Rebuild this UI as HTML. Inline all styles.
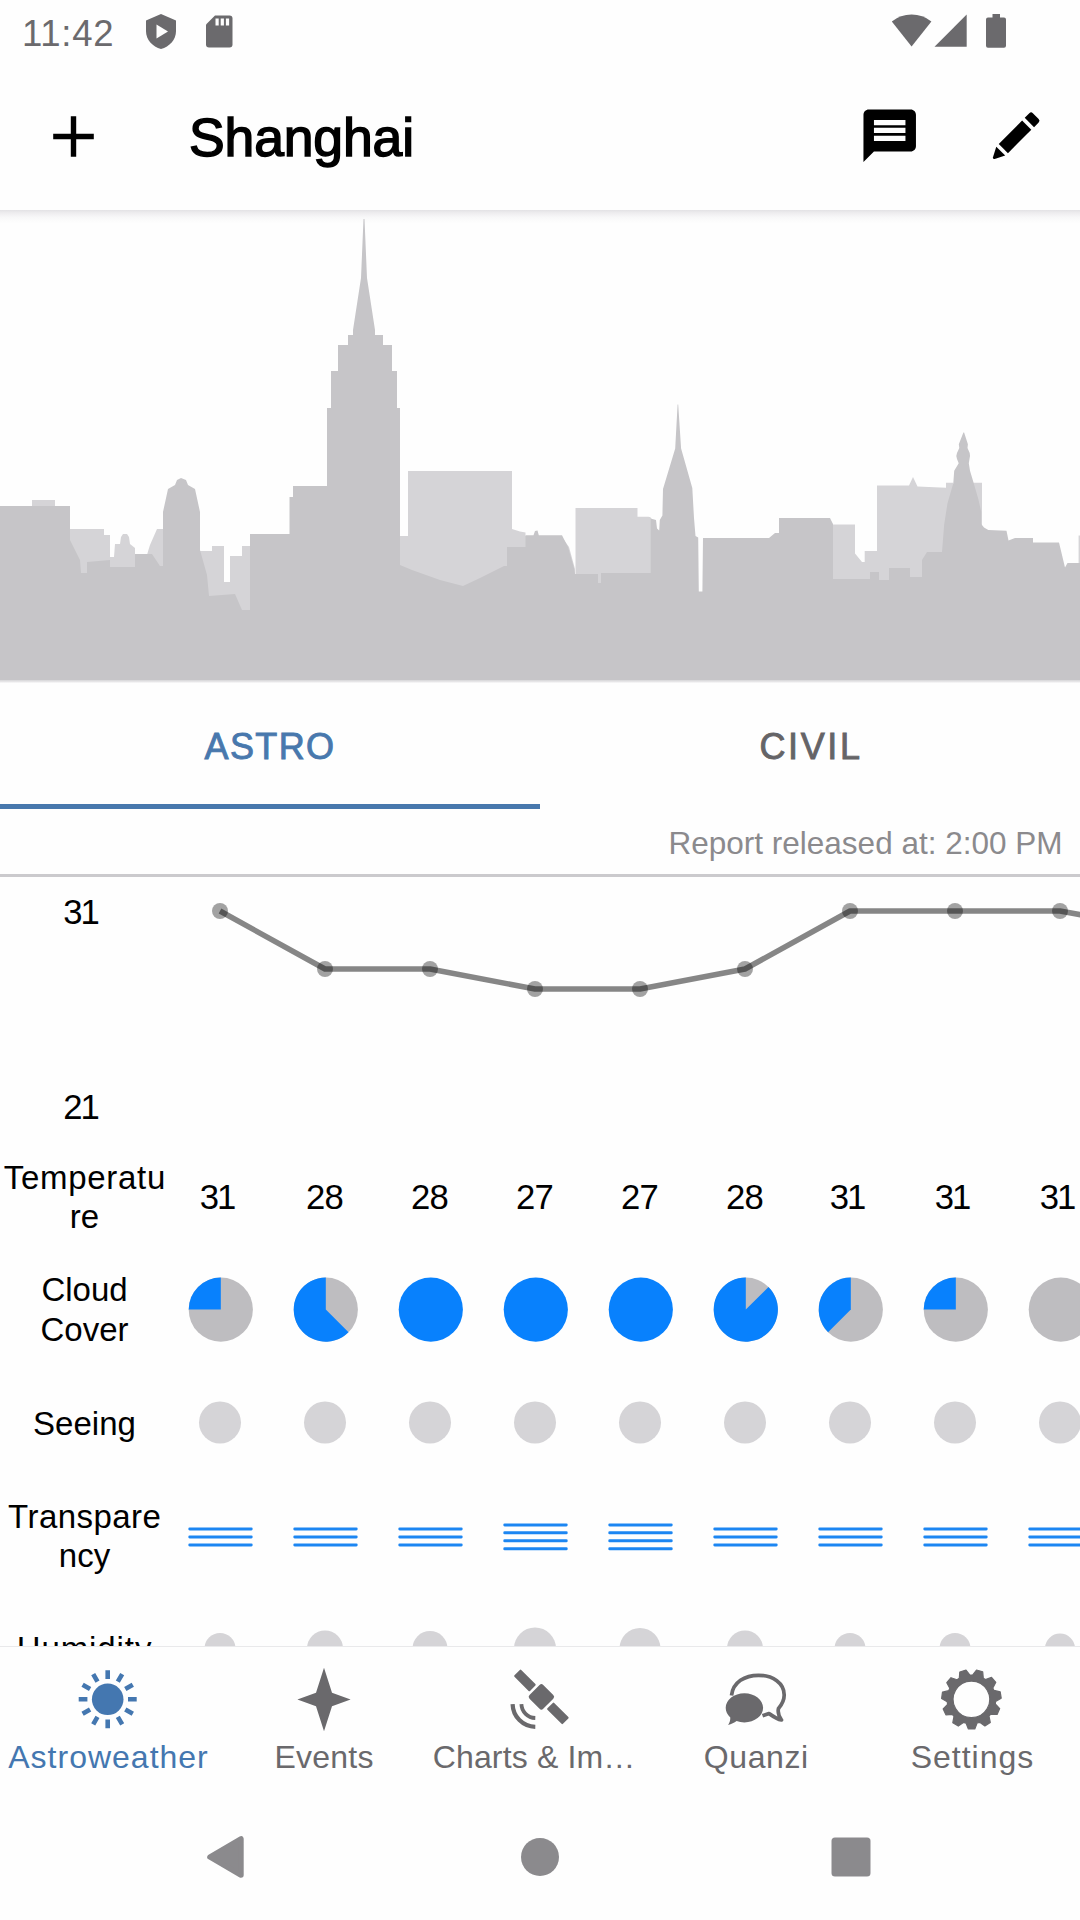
<!DOCTYPE html>
<html lang="en">
<head>
<meta charset="utf-8">
<title>Astroweather - Shanghai</title>
<style>
*{margin:0;padding:0;box-sizing:border-box}
html,body{width:1080px;height:1920px;overflow:hidden;background:#fefefe}
body{position:relative;font-family:"Liberation Sans",sans-serif;color:#000}
.abs{position:absolute}
svg{position:absolute;overflow:visible}
.t{position:absolute;white-space:nowrap;line-height:1}
/* status bar */
#time{left:22px;top:16px;font-size:36.5px;color:#6b6a6d;letter-spacing:0.7px}
/* app bar */
#title{left:189px;top:111px;font-size:53.5px;color:#000;font-weight:normal;-webkit-text-stroke:1.5px #000;letter-spacing:-0.15px}
#appshadow{left:0;top:209.5px;width:1080px;height:14px;background:linear-gradient(#e3e2e5 0,#eeedef 3px,#f7f7f8 7px,#fcfcfc 11px,#fefefe 14px)}
/* tabs */
.tab{position:absolute;top:683.8px;width:540px;height:126px;text-align:center;font-size:36px;line-height:126px;-webkit-text-stroke:.9px currentColor}
#tab1{left:0;color:#4878ad;letter-spacing:1.4px;padding-left:0px}
#tab2{left:540px;color:#656467;letter-spacing:2.6px;padding-left:2px}
#ind{left:0;top:804px;width:540px;height:5px;background:#4878ad}
#report{right:17.5px;top:828px;font-size:31.5px;color:#8b8a8d}
#sep{left:0;top:874px;width:1080px;height:3px;background:#cbcacd}

.yl{left:38px;width:85px;text-align:center;font-size:34.7px;letter-spacing:-2px}
.rl{left:0;width:169px;text-align:center;font-size:33px}
.tv{width:105px;text-align:center;font-size:34.7px;letter-spacing:-.8px;top:1179.6px}

#bnav{left:0;top:1646px;width:1080px;height:274px;background:#fefefe;border-top:1.5px solid #e9e9eb}
.bl{width:216px;text-align:center;top:1740.8px;font-size:32px}
</style>
</head>
<body>

<!-- ===== STATUS BAR ===== -->
<div class="t" id="time">11:42</div>
<svg id="sticons" width="1080" height="63" viewBox="0 0 1080 63" style="left:0;top:0">
  <g fill="#6b6a6d">
    <!-- shield with play -->
    <path d="M161 14 L176 20.5 V31 C176 40 169.5 46.5 161 49 C152.5 46.5 146 40 146 31 V20.5 Z"/>
    <path d="M156.5 24.5 L168 31.5 L156.5 38.5 Z" fill="#fefefe"/>
    <!-- sd card -->
    <path d="M215 15.5 H229.5 a3 3 0 0 1 3 3 V44.5 a3 3 0 0 1 -3 3 H209 a3 3 0 0 1 -3 -3 V24.5 Z"/>
    <rect x="215.5" y="18.5" width="3.2" height="7" fill="#fefefe"/>
    <rect x="220.7" y="18.5" width="3.2" height="7" fill="#fefefe"/>
    <rect x="225.9" y="18.5" width="3.2" height="7" fill="#fefefe"/>
    <!-- wifi -->
    <path d="M911.6 46.5 L891.8 21.4 A32 32 0 0 1 931.4 21.4 Z"/>
    <!-- signal -->
    <path d="M934.5 46.7 H966.7 V14.5 Z"/>
    <!-- battery -->
    <path d="M992.5 14 H1000 V17.5 H1004 a2 2 0 0 1 2 2 V45.8 a2 2 0 0 1 -2 2 H988 a2 2 0 0 1 -2 -2 V19.5 a2 2 0 0 1 2 -2 H992.5 Z"/>
  </g>
</svg>

<!-- ===== APP BAR ===== -->
<svg style="left:0;top:63px" width="1080" height="147" viewBox="0 63 1080 147">
  <!-- plus -->
  <path d="M53.2 133.8 H70.8 V116.2 H76.2 V133.8 H93.8 V139.2 H76.2 V156.8 H70.8 V139.2 H53.2 Z" fill="#000"/>
  <!-- message icon (24dp * 2.625) -->
  <g transform="translate(858.2 104.2) scale(2.625)">
    <path d="M20 2H4c-1.1 0-1.99.9-1.99 2L2 22l4-4h14c1.1 0 2-.9 2-2V4c0-1.1-.9-2-2-2zm-2 12H6v-2h12v2zm0-3H6V9h12v2zm0-3H6V6h12v2z" fill="#000"/>
  </g>
  <!-- edit icon (pencil: cap, body, tip) -->
  <g transform="translate(1013.9 138) rotate(45)" fill="#000">
    <path d="M-6.6 -21.9 V-28.4 a2.5 2.5 0 0 1 2.5 -2.5 H4.1 a2.5 2.5 0 0 1 2.5 2.5 V-21.9 Z"/>
    <rect x="-6.5" y="-18.1" width="13" height="33"/>
    <path d="M-6.3 18.6 H6.3 L1.2 28.4 Q0 30.2 -1.2 28.4 Z"/>
  </g>
</svg>
<div class="t" id="title">Shanghai</div>
<div class="abs" id="appshadow"></div>

<!-- ===== SKYLINE ===== -->
<svg id="sky" style="left:0;top:210px" width="1080" height="473" viewBox="0 210 1080 473">
  <g fill="#d5d4d7">
    <rect x="32" y="500" width="23" height="8"/>
    <path d="M70 529 H104 V535 H110 V575 H70 Z"/>
    <path d="M109 570 V557 H114 L115 544 H120 L121 537 L123 534 H127 L129 537 L130 544 L135 548 V570 Z"/>
    <path d="M146 558 L150 545 L157 529 H163 V568 Z"/>
    <path d="M200 551 H212 V546 H224 V582 H230 V556 H242 V546 H250 V614 H200 Z"/>
    <path d="M400 536 H408 V471 H512 V529 L520 531.5 L525.5 532.5 V536 H561 L569 547 L575 569 V590 H400 Z"/>
    <path d="M575.5 508 H637.5 V516.7 H648.5 Q651 516.7 651.5 519 V592 H575.5 Z"/>
    <path d="M833 524.5 H855 V553.6 L862 562 H864.7 V551 H877 V485.5 H909 L913 477 L917.5 486.5 L946 487.8 V482.7 H953.3 V487 H973 V482.7 H982 V585 H833 Z"/>
    <rect x="1078.6" y="535.5" width="2" height="30"/>
  </g>
  <path fill="#c6c5c8" d="M0 680.4 V506 H70 V540 L80 560 L81 573 H87 V562 L110 560 V567 H135 V554 H152 L160 566 H163 V512 L168 489 L175 485 L177 480 L181 478 L186 480 L188 485 L195 489 L200 512 V550 L207 575 L209 596 L235 594 L242 610 H250 V534 H289.5 V497 H293 V486 H327 V408 H331 V371 H338 V345 H348 V335 H353 V330 L361 278 L363.5 219 H364.5 L367 278 L375 330 V335 H383 V345 H392 V371 H397 V408 H400 V565 L412 570 L440 580 L463 586 L480 578 L504 566 H507 V547 H525.5 V535.2 H533.5 L535 531 L537.5 530.6 L538.8 535.2 H562 L568 547 L574 568 L575 574 H598 V583 H601 V573 H650.7 V518.5 L656 520 L657 528.5 L659.2 530.6 L659.8 520 L662.4 515.6 L663 489 L675.2 448.4 L677.6 404.6 H678.2 L681.1 448.4 L692.3 488 L694 518 L695.5 536 L698.2 537.5 L698.8 591.5 H702.4 L703 538 H769 L775 533 H779 V518 H830 L833 524 V579 H870 V572 H879 V580 H889 V568 H910 V577 H922 V560 L927 552 H942 L944.2 524.2 L947.5 503.3 L953.3 483.3 L954.2 470.8 L958.7 463.3 L957 459 L956.3 456 L957 453 L959.3 448 L958.8 444.2 L963.4 432.5 H964.1 L967.9 444.2 L967.5 448 L969.7 453 L970 456 L969.5 459 L968.8 463.3 L970 470.8 L973.3 481.7 L978.3 499 L981.2 511.7 V524 L984 527.5 L988.3 530 L1006.5 530.8 L1008.5 540.5 L1015 538 H1033 V542.5 H1059 L1065 567.5 L1067.5 563 H1080 V680.4 H0 Z"/>
  <defs><linearGradient id="skb" x1="0" y1="0" x2="0" y2="1"><stop offset="0" stop-color="#d6d5d8"/><stop offset="1" stop-color="#fefefe"/></linearGradient></defs>
  <rect x="0" y="680.4" width="1080" height="2.8" fill="url(#skb)"/>
</svg>

<!-- ===== TABS ===== -->
<div class="tab" id="tab1">ASTRO</div>
<div class="tab" id="tab2">CIVIL</div>
<div class="abs" id="ind"></div>
<div class="t" id="report">Report released at: 2:00 PM</div>
<div class="abs" id="sep"></div>

<!-- ===== CHART + TABLE ===== -->
<svg id="gfx" style="left:0;top:877px;overflow:hidden" width="1080" height="770" viewBox="0 877 1080 770">
  <polyline fill="none" stroke="#000" stroke-opacity=".47" stroke-width="5.5" stroke-linejoin="round" points="220,911 325,969 430,969 535,989 640,989 745,969 850,911 955,911 1060,911 1165,930"/>
  <g fill="#000" fill-opacity=".36"><circle cx="220" cy="911" r="8"/><circle cx="325" cy="969" r="8"/><circle cx="430" cy="969" r="8"/><circle cx="535" cy="989" r="8"/><circle cx="640" cy="989" r="8"/><circle cx="745" cy="969" r="8"/><circle cx="850" cy="911" r="8"/><circle cx="955" cy="911" r="8"/><circle cx="1060" cy="911" r="8"/><circle cx="1165" cy="930" r="8"/></g>
  <g fill="#bebdc0"><circle cx="220.8" cy="1309.6" r="32.1"/><circle cx="325.8" cy="1309.6" r="32.1"/><circle cx="745.8" cy="1309.6" r="32.1"/><circle cx="850.8" cy="1309.6" r="32.1"/><circle cx="955.8" cy="1309.6" r="32.1"/><circle cx="1060.8" cy="1309.6" r="32.1"/></g>
  <g fill="#0881fd"><path d="M220.8 1309.6 V1277.5 A32.1 32.1 0 0 0 188.70 1309.60 Z"/><path d="M325.8 1309.6 V1277.5 A32.1 32.1 0 1 0 348.50 1332.30 Z"/><circle cx="430.8" cy="1309.6" r="32.1"/><circle cx="535.8" cy="1309.6" r="32.1"/><circle cx="640.8" cy="1309.6" r="32.1"/><path d="M745.8 1309.6 V1277.5 A32.1 32.1 0 1 0 768.50 1286.90 Z"/><path d="M850.8 1309.6 V1277.5 A32.1 32.1 0 0 0 828.10 1332.30 Z"/><path d="M955.8 1309.6 V1277.5 A32.1 32.1 0 0 0 923.70 1309.60 Z"/></g>
  <g fill="#d5d4d7"><circle cx="220" cy="1422.5" r="21"/><circle cx="325" cy="1422.5" r="21"/><circle cx="430" cy="1422.5" r="21"/><circle cx="535" cy="1422.5" r="21"/><circle cx="640" cy="1422.5" r="21"/><circle cx="745" cy="1422.5" r="21"/><circle cx="850" cy="1422.5" r="21"/><circle cx="955" cy="1422.5" r="21"/><circle cx="1060" cy="1422.5" r="21"/></g>
  <g fill="#1c86f2"><rect x="188.3" y="1527.5" width="64.4" height="3" rx="1.4"/><rect x="188.3" y="1535.5" width="64.4" height="3" rx="1.4"/><rect x="188.3" y="1543.5" width="64.4" height="3" rx="1.4"/><rect x="293.3" y="1527.5" width="64.4" height="3" rx="1.4"/><rect x="293.3" y="1535.5" width="64.4" height="3" rx="1.4"/><rect x="293.3" y="1543.5" width="64.4" height="3" rx="1.4"/><rect x="398.3" y="1527.5" width="64.4" height="3" rx="1.4"/><rect x="398.3" y="1535.5" width="64.4" height="3" rx="1.4"/><rect x="398.3" y="1543.5" width="64.4" height="3" rx="1.4"/><rect x="503.3" y="1523.4" width="64.4" height="3" rx="1.4"/><rect x="503.3" y="1531.3" width="64.4" height="3" rx="1.4"/><rect x="503.3" y="1539.3" width="64.4" height="3" rx="1.4"/><rect x="503.3" y="1547.3" width="64.4" height="3" rx="1.4"/><rect x="608.3" y="1523.4" width="64.4" height="3" rx="1.4"/><rect x="608.3" y="1531.3" width="64.4" height="3" rx="1.4"/><rect x="608.3" y="1539.3" width="64.4" height="3" rx="1.4"/><rect x="608.3" y="1547.3" width="64.4" height="3" rx="1.4"/><rect x="713.3" y="1527.5" width="64.4" height="3" rx="1.4"/><rect x="713.3" y="1535.5" width="64.4" height="3" rx="1.4"/><rect x="713.3" y="1543.5" width="64.4" height="3" rx="1.4"/><rect x="818.3" y="1527.5" width="64.4" height="3" rx="1.4"/><rect x="818.3" y="1535.5" width="64.4" height="3" rx="1.4"/><rect x="818.3" y="1543.5" width="64.4" height="3" rx="1.4"/><rect x="923.3" y="1527.5" width="64.4" height="3" rx="1.4"/><rect x="923.3" y="1535.5" width="64.4" height="3" rx="1.4"/><rect x="923.3" y="1543.5" width="64.4" height="3" rx="1.4"/><rect x="1028.3" y="1527.5" width="64.4" height="3" rx="1.4"/><rect x="1028.3" y="1535.5" width="64.4" height="3" rx="1.4"/><rect x="1028.3" y="1543.5" width="64.4" height="3" rx="1.4"/></g>
  <g fill="#d5d4d7"><circle cx="220" cy="1648.5" r="15.5"/><circle cx="325" cy="1648.5" r="18"/><circle cx="430" cy="1648.5" r="17.5"/><circle cx="535" cy="1648.5" r="21"/><circle cx="640" cy="1648.5" r="20.5"/><circle cx="745" cy="1648.5" r="18"/><circle cx="850" cy="1648.5" r="15.5"/><circle cx="955" cy="1648.5" r="15.5"/><circle cx="1060" cy="1648.5" r="15"/></g>
</svg>
<div class="t yl" style="top:894.7px">31</div>
<div class="t yl" style="top:1089.5px">21</div>
<div class="t rl" style="top:1160.8px;letter-spacing:0.7px;padding-left:0.7px">Temperatu</div>
<div class="t rl" style="top:1200.1px">re</div>
<div class="t rl" style="top:1273.3px">Cloud</div>
<div class="t rl" style="top:1313.3px">Cover</div>
<div class="t rl" style="top:1406.6px">Seeing</div>
<div class="t rl" style="top:1499.6px;letter-spacing:0.45px;padding-left:0.45px">Transpare</div>
<div class="t rl" style="top:1539.1px">ncy</div>
<div class="t rl" style="top:1631.8px;height:15.2px;overflow:hidden;letter-spacing:.9px;padding-left:0">Humidity</div>
<div class="t tv" style="left:164.5px;letter-spacing:-2px">31</div>
<div class="t tv" style="left:271.9px">28</div>
<div class="t tv" style="left:376.9px">28</div>
<div class="t tv" style="left:481.9px">27</div>
<div class="t tv" style="left:586.9px">27</div>
<div class="t tv" style="left:691.9px">28</div>
<div class="t tv" style="left:794.5px;letter-spacing:-2px">31</div>
<div class="t tv" style="left:899.5px;letter-spacing:-2px">31</div>
<div class="t tv" style="left:1004.5px;letter-spacing:-2px">31</div>

<!-- ===== BOTTOM NAV ===== -->
<div class="abs" id="bnav"></div>
<svg id="bicons" style="left:0;top:1645px" width="1080" height="275" viewBox="0 1645 1080 275">
  <circle cx="107.7" cy="1699.3" r="15.8" fill="#4477b0"/>
  <path d="M107.7 1679.0L107.7 1670.3M117.8 1681.7L122.2 1674.2M125.3 1689.1L132.8 1684.8M128.0 1699.3L136.7 1699.3M125.3 1709.5L132.8 1713.8M117.8 1716.9L122.2 1724.4M107.7 1719.6L107.7 1728.3M97.5 1716.9L93.2 1724.4M90.1 1709.5L82.6 1713.8M87.4 1699.3L78.7 1699.3M90.1 1689.1L82.6 1684.8M97.5 1681.7L93.2 1674.2" stroke="#4477b0" stroke-width="4.6" fill="none"/>
  <path fill="#6a696c" d="M324.0 1667.8 L332.0 1692.7 L350.6 1699.5 L332.0 1706.3 L324.0 1731.2 L316.0 1706.3 L297.4 1699.5 L316.0 1692.7 Z"/>
  <g fill="#6a696c">
    <g transform="translate(541.4 1696.9) rotate(-45)">
      <rect x="-9.7" y="-9.7" width="19.4" height="19.4" rx="2.6"/>
      <rect x="-4.8" y="-34.3" width="9.6" height="22" rx="1"/>
      <rect x="-4.8" y="12.3" width="9.6" height="22" rx="1"/>
    </g>
  </g>
  <path d="M521.4 1704.1 A14.4 14.4 0 0 0 535.3 1718.0" fill="none" stroke="#6a696c" stroke-width="3.8"/>
  <path d="M512.6 1704.1 A23.2 23.2 0 0 0 535.3 1726.8" fill="none" stroke="#6a696c" stroke-width="4.2"/>
  <path d="M731.5 1695.5 C733 1682 745 1675.3 758.5 1675.3 C773 1675.3 784.2 1683.5 784.2 1695 C784.2 1701 781.5 1705 778.5 1708.5 C777.5 1712.5 779 1716.5 781.5 1720 C776.5 1719 772.5 1716 769 1713.5 L762.5 1715.8" fill="none" stroke="#6a696c" stroke-width="3.7" stroke-linejoin="round"/>
  <path fill="#6a696c" d="M744.4 1693.2 C754.7 1693.2 763.1 1699.7 763.1 1707.8 C763.1 1715.9 754.7 1722.4 744.4 1722.4 C741.6 1722.4 739 1721.9 736.6 1721.1 C734.3 1722.8 731.4 1724.2 728.1 1724.9 C729.6 1722.7 730.4 1720.2 730.3 1717.4 C727.4 1714.8 725.7 1711.5 725.7 1707.8 C725.7 1699.7 734.1 1693.2 744.4 1693.2 Z"/>
  <path fill="#6a696c" stroke="#6a696c" stroke-width="1.2" stroke-linejoin="round" fill-rule="evenodd" d="M972.6 1675.1 L976.5 1670.0 L982.7 1671.8 L983.3 1678.2 L985.5 1679.6 L991.5 1677.4 L995.8 1682.3 L992.8 1688.0 L994.0 1690.4 L1000.2 1691.8 L1001.2 1698.2 L995.6 1701.4 L995.3 1704.0 L999.7 1708.6 L997.1 1714.5 L990.7 1714.2 L989.0 1716.2 L990.3 1722.5 L984.9 1726.0 L979.7 1722.3 L977.1 1723.0 L974.8 1729.0 L968.4 1729.0 L966.0 1723.1 L963.4 1722.4 L958.3 1726.1 L952.8 1722.7 L954.0 1716.4 L952.3 1714.4 L945.9 1714.8 L943.2 1709.0 L947.6 1704.3 L947.2 1701.7 L941.6 1698.6 L942.5 1692.2 L948.7 1690.7 L949.8 1688.2 L946.8 1682.6 L951.0 1677.7 L957.0 1679.8 L959.3 1678.3 L959.8 1672.0 L966.0 1670.1 L969.9 1675.1 Z M971.4 1681.1 a18.3 18.3 0 1 0 0.01 0 Z"/>
  <g fill="#8b8a8d">
    <path d="M241 1838.9 V1875.1 L209.9 1857 Z" stroke="#8b8a8d" stroke-width="5.4" stroke-linejoin="round"/>
    <circle cx="540" cy="1857" r="19"/>
    <rect x="831.5" y="1837.5" width="39" height="39" rx="3.5"/>
  </g>
</svg>
<div class="t bl" style="left:0px;color:#4477b0;letter-spacing:1.0px;padding-left:1.0px">Astroweather</div>
<div class="t bl" style="left:216px;color:#6a696c;letter-spacing:0.2px;padding-left:0.2px">Events</div>
<div class="t bl" style="left:426px;color:#6a696c;letter-spacing:0.15px;padding-left:0.15px">Charts &amp; Im…</div>
<div class="t bl" style="left:648px;color:#6a696c;letter-spacing:0.6px;padding-left:0.6px">Quanzi</div>
<div class="t bl" style="left:864px;color:#6a696c;letter-spacing:1.0px;padding-left:1.0px">Settings</div>
</body>
</html>
